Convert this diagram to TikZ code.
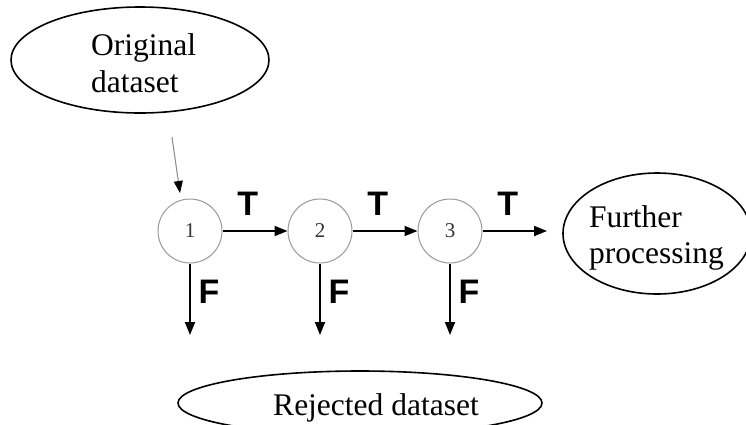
\documentclass[tikz,border=0pt]{standalone}
\usepackage{fontspec}
\setmainfont{Liberation Serif}
\newfontfamily\labelfont{Liberation Sans}
\usetikzlibrary{arrows.meta,shapes.geometric}

\begin{document}
\begin{tikzpicture}[x=1pt,y=-1pt,
    dataset/.style={ellipse, draw=black, line width=1.6pt, inner sep=0pt},
    dtext/.style={inner sep=0pt, align=left, font=\fontsize{31.5}{36.5}\selectfont},
    test/.style={circle, draw=black!40, line width=1pt, minimum size=64pt, inner sep=0pt, text=black!80, font=\fontsize{21}{21}\selectfont},
    flow/.style={line width=1.8pt, -{Triangle[length=13pt,width=10pt]}},
    tf/.style={inner sep=0pt, font=\labelfont\bfseries\fontsize{34}{34}\selectfont}]
  \useasboundingbox (0,0) rectangle (746,424);

  % data sets
  \node[dataset, minimum width=258pt, minimum height=106pt] (orig) at (140,60) {};
  \node[dtext, anchor=west] (origtxt) at (91,63) {Original\\dataset};
  \node[dataset, minimum width=188pt, minimum height=121pt] (further) at (657,233.5) {};
  \node[dtext, anchor=west] (furthertxt) at (589,238) {Further\\processing};
  \node[dataset, minimum width=364pt, minimum height=64pt] (rej) at (360,403) {};
  \node[dtext, anchor=base] (rejtxt) at (376,415) {Rejected dataset};

  % tests
  \node[test] (c1) at (190,231) {1};
  \node[test] (c2) at (320,231) {2};
  \node[test] (c3) at (450,231) {3};

  \coordinate (src) at (172,137);
  \coordinate (in) at (180,193);
  \coordinate (out) at (547,231);
  \coordinate (f1) at (190,335);
  \coordinate (f2) at (320,335);
  \coordinate (f3) at (450,335);

  \draw[line width=1pt, draw=black!45, -{Triangle[length=12pt,width=9pt,color=black]}] (src) -- (in);

  \draw[flow] (c1) -- node[tf, pos=0.39, above=15pt] (t1) {T} (c2);
  \draw[flow] (c2) -- node[tf, pos=0.39, above=15pt] (t2) {T} (c3);
  \draw[flow] (c3) -- node[tf, pos=0.39, above=15pt] (t3) {T} (out);

  \draw[flow] (c1) -- node[tf, pos=0.4, right=7.6pt] (n1) {F} (f1);
  \draw[flow] (c2) -- node[tf, pos=0.4, right=7.6pt] (n2) {F} (f2);
  \draw[flow] (c3) -- node[tf, pos=0.4, right=7.6pt] (n3) {F} (f3);
\end{tikzpicture}
\end{document}
